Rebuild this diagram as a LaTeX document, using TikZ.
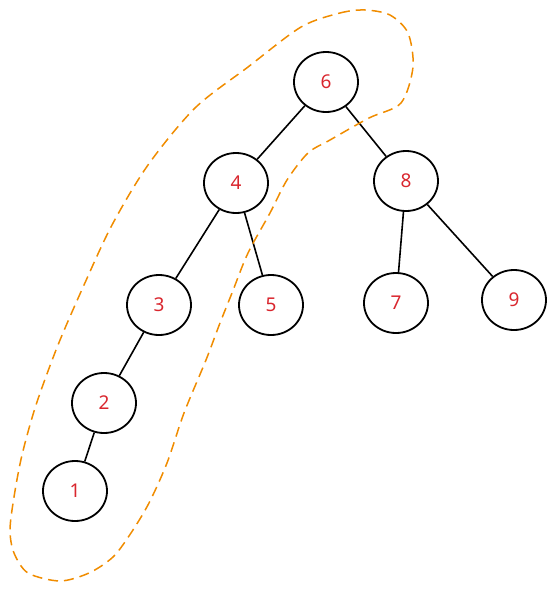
\documentclass[tikz,border=0pt]{standalone}
\usepackage{fontspec}
\setmainfont{Noto Sans}
\usetikzlibrary{shapes.geometric}
\definecolor{hl}{HTML}{F08C00}
\definecolor{num}{HTML}{D9262E}
\begin{document}
\begin{tikzpicture}[x=1pt,y=-1pt,
  vert/.style={ellipse,draw=black,line width=1.8pt,minimum width=64pt,minimum height=60pt,inner sep=0pt,
    text=num,font=\fontsize{19}{21}\selectfont},
  edge/.style={draw=black,line width=1.6pt},
  loop/.style={draw=hl,line width=1.5pt,dash pattern=on 10pt off 6pt}]
\useasboundingbox (0,0) rectangle (556,590);
\node[vert] (n6) at (326,82) {6};
\node[vert] (n4) at (236,183) {4};
\node[vert] (n8) at (406,181) {8};
\node[vert] (n3) at (159,305) {3};
\node[vert] (n5) at (271,305) {5};
\node[vert] (n7) at (396,303) {7};
\node[vert] (n9) at (514,300) {9};
\node[vert] (n2) at (104,403) {2};
\node[vert] (n1) at (75,491) {1};
\draw[edge] (n6) -- (n4);
\draw[edge] (n6) -- (n8);
\draw[edge] (n4) -- (n3);
\draw[edge] (n4) -- (n5);
\draw[edge] (n8) -- (n7);
\draw[edge] (n8) -- (n9);
\draw[edge] (n3) -- (n2);
\draw[edge] (n2) -- (n1);
\draw[loop] plot[smooth cycle,tension=0.5] coordinates {
 (301,27) (340,13) (365,10) (390,15) (408,33) (413,67) (401,103) (369,118)
 (330,140) (308,153) (287,180) (270,213) (248,253) (232,293) (220,323) (206,360)
 (184,413) (167,463) (149,503) (131,533) (113,557) (89,573) (60,581) (28,573)
 (14,553) (10,530) (14,497) (22,455) (36,405) (58,345) (84,285)
 (112,225) (148,165) (195,108) (248,67)};
\end{tikzpicture}
\end{document}
